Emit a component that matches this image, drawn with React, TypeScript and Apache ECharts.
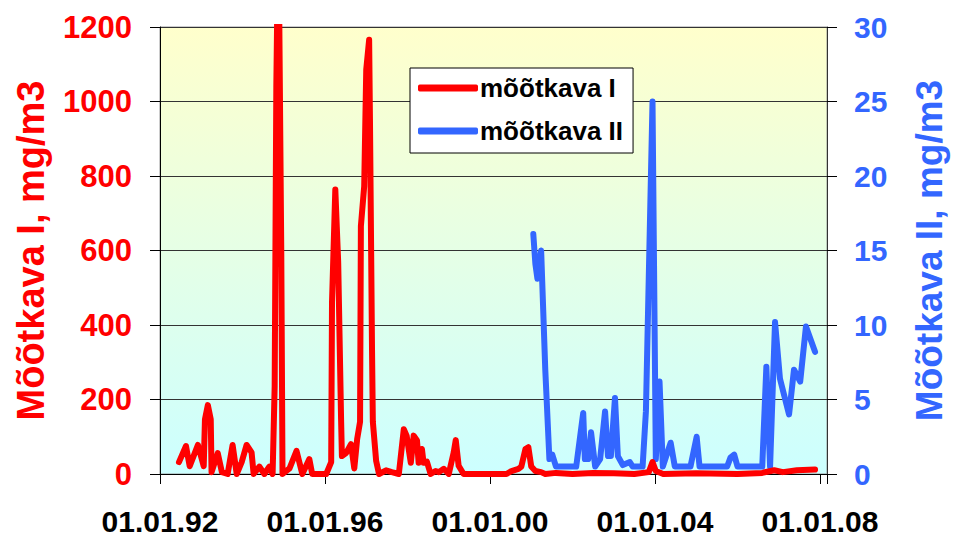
import React, { useEffect, useRef } from "react";
import * as echarts from "echarts";

// x = decimal year, y = concentration
const seriesNames = ["mõõtkava I", "mõõtkava II"];

const redYears = [
  1992.46, 1992.63, 1992.72, 1992.92, 1993.06, 1993.09, 1993.16, 1993.23, 1993.25, 1993.4,
  1993.5, 1993.64, 1993.76, 1993.86, 1993.98, 1994.1, 1994.22, 1994.27, 1994.41, 1994.53,
  1994.65, 1994.73, 1994.78, 1994.82, 1994.87, 1994.94, 1994.97, 1995.14, 1995.31, 1995.45,
  1995.62, 1995.69, 1996.03, 1996.15, 1996.17, 1996.25, 1996.32, 1996.39, 1996.41, 1996.51,
  1996.63, 1996.71, 1996.78, 1996.85, 1996.87, 1996.95, 1997.0, 1997.07, 1997.09, 1997.14,
  1997.16, 1997.24, 1997.31, 1997.48, 1997.62, 1997.79, 1997.91, 1997.98, 1998.08, 1998.15,
  1998.23, 1998.27, 1998.35, 1998.39, 1998.47, 1998.56, 1998.68, 1998.76, 1998.88, 1999.0,
  1999.12, 1999.17, 1999.24, 1999.36, 2000.4, 2000.52, 2000.69, 2000.76, 2000.86, 2000.93,
  2001.0, 2001.1, 2001.24, 2001.34, 2001.6, 2002.0, 2002.5, 2003.0, 2003.5, 2003.85,
  2003.94, 2004.02, 2004.2, 2005.0, 2006.0, 2006.6, 2006.89, 2007.1, 2007.44, 2007.88,
];
const redValues = [
  32, 75, 21, 78, 21, 147, 185, 147, 5, 56,
  5, 0, 78, 0, 32, 78, 58, 0, 20, 0,
  20, 0, 236, 1040, 1500, 595, 0, 15, 62, 0,
  40, 0, 0, 32, 461, 764, 568, 147, 48, 56,
  80, 15, 94, 140, 665, 772, 1086, 1166, 952, 335,
  140, 35, 0, 10, 5, 0, 120, 102, 30, 103,
  90, 30, 67, 30, 33, 0, 8, 5, 14, 0,
  58, 91, 22, 0, 0, 8, 14, 20, 67, 72,
  20, 8, 5, 0, 3, 0, 3, 2, 0, 5,
  32, 8, 0, 2, 0, 3, 10, 5, 10, 12,
];

const blueYears = [
  2001.05, 2001.1, 2001.15, 2001.24, 2001.34, 2001.44, 2001.51, 2001.6, 2002.09, 2002.26,
  2002.3, 2002.38, 2002.45, 2002.55, 2002.67, 2002.79, 2002.86, 2002.93, 2003.03, 2003.1,
  2003.22, 2003.39, 2003.46, 2003.7, 2003.78, 2003.94, 2004.02, 2004.11, 2004.19, 2004.38,
  2004.48, 2004.86, 2005.01, 2005.08, 2005.75, 2005.83, 2005.92, 2006.0, 2006.6, 2006.7,
  2006.79, 2006.91, 2007.03, 2007.25, 2007.37, 2007.52, 2007.66, 2007.88,
];
const blueValues = [
  16.1, 14.1, 13.1, 15.0, 7.0, 1.0, 1.3, 0.5, 0.5, 4.1,
  1.0, 1.0, 2.8, 0.5, 1.0, 4.2, 1.2, 1.2, 5.1, 1.2,
  0.6, 0.8, 0.5, 0.5, 4.2, 25.0, 1.0, 6.2, 0.5, 2.1,
  0.5, 0.5, 2.5, 0.5, 0.5, 1.1, 1.3, 0.5, 0.5, 7.2,
  0.5, 10.2, 6.4, 4.0, 7.0, 6.2, 9.9, 8.2,
];

const leftTicks = { min: 0, max: 1200, interval: 200 };
const rightTicks = { min: 0, max: 30, interval: 5 };
const xRange = { min: 1992, max: 2008.17, interval: 4 };

const FONT = "'Liberation Sans', Arial, sans-serif";

export default function App() {
  const ref = useRef<HTMLDivElement>(null);
  useEffect(() => {
    if (!ref.current) return;
    const chart = echarts.init(ref.current, null, { renderer: "svg" });
    const red = redYears.map((x, i) => [x, redValues[i]]);
    const blue = blueYears.map((x, i) => [x, blueValues[i]]);
    chart.setOption({
      animation: false,
      backgroundColor: "#ffffff",
      textStyle: { fontFamily: FONT },
      grid: {
        left: 160,
        right: 126,
        top: 27,
        bottom: 61,
        show: true,
        borderColor: "#999999",
        borderWidth: 1,
        backgroundColor: new echarts.graphic.LinearGradient(0, 0, 0, 1, [
          { offset: 0, color: "#ffffcc" },
          { offset: 1, color: "#ccffff" },
        ]),
      },
      legend: {
        orient: "vertical",
        left: 410,
        top: 68,
        padding: [7, 10, 9, 8],
        itemGap: 17,
        itemWidth: 60,
        itemHeight: 7,
        icon: "roundRect",
        backgroundColor: "#ffffff",
        borderColor: "#000000",
        borderWidth: 1,
        textStyle: { fontSize: 26, fontWeight: "bold", color: "#000", fontFamily: FONT, padding: [0, 0, 0, -3], lineHeight: 26 },
        data: seriesNames,
      },
      xAxis: {
        type: "value",
        min: xRange.min,
        max: xRange.max,
        interval: xRange.interval,
        axisLine: { lineStyle: { color: "#000", width: 1 } },
        axisTick: { show: true, inside: false, length: 10, lineStyle: { color: "#000" } },
        splitLine: { show: false },
        axisLabel: {
          margin: 32,
          fontSize: 30,
          fontWeight: "bold",
          color: "#000",
          fontFamily: FONT,
          formatter: (v: number) => {
            const r = Math.round(v);
            if (Math.abs(v - r) > 1e-6 || r % 4 !== 0) return "";
            return "01.01." + String(r).slice(2);
          },
        },
      },
      yAxis: [
        {
          type: "value",
          position: "left",
          min: leftTicks.min,
          max: leftTicks.max,
          interval: leftTicks.interval,
          name: "Mõõtkava I, mg/m3",
          nameLocation: "middle",
          nameRotate: 90,
          nameGap: 110,
          nameTextStyle: { fontSize: 38, fontWeight: "bold", color: "#ff0000", fontFamily: FONT },
          axisLine: { show: true, lineStyle: { color: "#000", width: 1 } },
          axisTick: { show: true, inside: false, length: 10, lineStyle: { color: "#000" } },
          splitLine: { show: true, lineStyle: { color: "#333333", width: 1 } },
          axisLabel: {
            margin: 28,
            fontSize: 31,
            fontWeight: "bold",
            color: "#ff0000",
            fontFamily: FONT,
            formatter: (v: number) => String(v),
          },
        },
        {
          type: "value",
          position: "right",
          min: rightTicks.min,
          max: rightTicks.max,
          interval: rightTicks.interval,
          name: "Mõõtkava II, mg/m3",
          nameLocation: "middle",
          nameRotate: 90,
          nameGap: 84,
          nameTextStyle: { fontSize: 37, fontWeight: "bold", color: "#3366ff", fontFamily: FONT },
          axisLine: { show: true, lineStyle: { color: "#333", width: 1 } },
          axisTick: { show: true, inside: false, length: 10, lineStyle: { color: "#000" } },
          splitLine: { show: false },
          axisLabel: {
            margin: 27,
            fontSize: 30,
            fontWeight: "bold",
            color: "#3366ff",
            fontFamily: FONT,
            formatter: (v: number) => String(v),
          },
        },
      ],
      series: [
        {
          name: seriesNames[0],
          type: "line",
          yAxisIndex: 0,
          data: red,
          symbol: "none",
          showSymbol: false,
          clip: true,
          z: 3,
          lineStyle: { color: "#ff0000", width: 6, cap: "round", join: "round" },
          itemStyle: { color: "#ff0000" },
        },
        {
          name: seriesNames[1],
          type: "line",
          yAxisIndex: 1,
          data: blue,
          symbol: "none",
          showSymbol: false,
          clip: true,
          z: 2,
          lineStyle: { color: "#3366ff", width: 6, cap: "round", join: "round" },
          itemStyle: { color: "#3366ff" },
        },
      ],
    });
    return () => chart.dispose();
  }, []);
  return <div ref={ref} style={{ position: "fixed", left: 0, top: 0, width: 956, height: 536 }} />;
}
